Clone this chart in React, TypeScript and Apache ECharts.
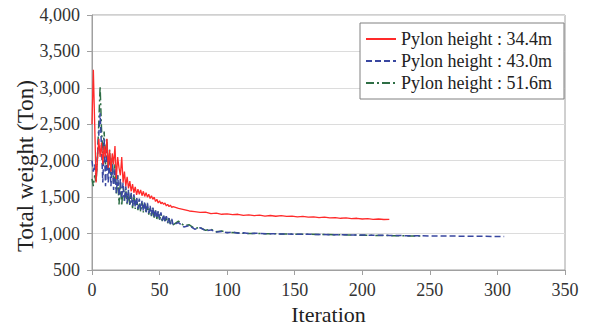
import React, { useEffect, useRef } from "react";
import * as echarts from "echarts";

const seriesNames = ["Pylon height : 34.4m", "Pylon height : 43.0m", "Pylon height : 51.6m"];

const redIter = [
  0, 1, 2, 3, 4, 5, 6, 7, 8, 9, 10, 11, 12, 13, 14, 15, 16, 17, 18, 19, 20, 21, 22, 23, 24, 25, 26, 27, 28, 29, 30,
  31, 32, 33, 34, 35, 36, 37, 38, 39, 40, 41, 42, 43, 44, 45, 46, 47, 48, 49, 50, 51, 52, 53, 54, 55, 56, 57, 58, 59, 60,
  64, 68, 72, 76, 80, 84, 88, 92, 96, 100, 104, 108, 112, 116, 120, 124, 128, 132, 136, 140, 144, 148, 152, 156, 160,
  164, 168, 172, 176, 180, 184, 188, 192, 196, 200, 204, 208, 212, 216, 220,
];
const redWeight = [
  2500, 3250, 2500, 1700, 2000, 2300, 2050, 2250, 1950, 2200, 2050, 2300, 1900, 2150, 1850, 2100, 1950, 2200, 1750, 2050, 1900,
  1800, 2050, 1700, 1850, 1650, 1780, 1620, 1720, 1580, 1680, 1560, 1640, 1530, 1610, 1540, 1600, 1520, 1580, 1510, 1560,
  1500, 1540, 1480, 1520, 1470, 1500, 1440, 1470, 1420, 1450, 1410, 1430, 1400, 1420, 1380, 1400, 1370, 1390, 1360, 1370,
  1345, 1330, 1310, 1300, 1290, 1295, 1275, 1280, 1265, 1270, 1260, 1265, 1250, 1258, 1245, 1252, 1240, 1248, 1238, 1245,
  1235, 1240, 1230, 1236, 1225, 1230, 1220, 1225, 1215, 1220, 1210, 1215, 1205, 1210, 1200, 1205, 1196, 1200, 1193, 1195,
];

const blueIter = [
  0, 1, 2, 3, 4, 5, 6, 7, 8, 9, 10, 11, 12, 13, 14, 15, 16, 17, 18, 19, 20, 21, 22, 23, 24, 25, 26, 27, 28, 29, 30,
  31, 32, 33, 34, 35, 36, 37, 38, 39, 40, 41, 42, 43, 44, 45, 46, 47, 48, 49, 50, 51, 52, 53, 54, 55, 56, 57, 58, 59, 60,
  64, 68, 72, 76, 80, 84, 88, 92, 96, 100, 104, 108, 112, 116, 120, 130, 140, 150, 160, 170, 180, 190, 200, 210, 220,
  230, 240, 250, 260, 270, 280, 290, 300, 305,
];
const blueWeight = [
  2000, 1850, 1950, 1780, 2050, 2350, 2650, 2200, 1700, 2300, 1650, 2150, 1700, 2050, 1650, 1950, 1600, 1900, 1560, 1800, 1520,
  1750, 1480, 1700, 1450, 1650, 1420, 1600, 1400, 1560, 1380, 1540, 1360, 1500, 1340, 1480, 1330, 1450, 1310, 1440, 1290,
  1420, 1280, 1380, 1250, 1360, 1230, 1330, 1210, 1310, 1200, 1290, 1180, 1260, 1160, 1240, 1150, 1220, 1130, 1200, 1120,
  1150, 1090, 1110, 1060, 1080, 1040, 1050, 1020, 1030, 1010, 1020, 1005, 1010, 1000, 1005, 998, 995, 992, 990, 987,
  984, 982, 980, 977, 975, 972, 970, 968, 966, 965, 963, 962, 960, 960,
];

const greenIter = [
  0, 1, 2, 3, 4, 5, 6, 7, 8, 9, 10, 11, 12, 13, 14, 15, 16, 17, 18, 19, 20, 21, 22, 23, 24, 25, 26, 27, 28, 29, 30,
  31, 32, 33, 34, 35, 36, 37, 38, 39, 40, 41, 42, 43, 44, 45, 46, 47, 48, 49, 50, 51, 52, 53, 54, 55, 56, 57, 58, 59, 60,
  64, 68, 72, 76, 80, 84, 88, 92, 96, 100, 108, 116, 124, 132, 140, 150, 160, 170, 180, 190, 200, 210, 220, 230, 240, 245,
];
const greenWeight = [
  1750, 1650, 1800, 1700, 2050, 2500, 3020, 2450, 2100, 2400, 1950, 2300, 1900, 2150, 1800, 2050, 1700, 1950, 1550, 1800, 1400,
  1700, 1380, 1650, 1450, 1620, 1400, 1580, 1380, 1540, 1350, 1520, 1340, 1480, 1320, 1460, 1300, 1430, 1290, 1410, 1280,
  1400, 1260, 1370, 1240, 1350, 1220, 1320, 1200, 1300, 1190, 1270, 1170, 1250, 1160, 1230, 1140, 1210, 1130, 1190, 1120,
  1170, 1110, 1120, 1070, 1085, 1045, 1060, 1025, 1035, 1015, 1010, 1000, 1000, 997, 995, 992, 990, 987, 984, 981, 978,
  975, 972, 969, 967, 965,
];

const pairs = (xs: number[], ys: number[]) => xs.map((x, i) => [x, ys[i]]);

const FONT = "Liberation Serif";

export default function App() {
  const ref = useRef<HTMLDivElement>(null);
  useEffect(() => {
    if (!ref.current) return;
    const chart = echarts.init(ref.current, undefined, { renderer: "svg" });
    chart.setOption({
      animation: false,
      backgroundColor: "#ffffff",
      textStyle: { fontFamily: FONT },
      grid: {
        left: 92,
        right: 24,
        top: 15,
        bottom: 55,
        containLabel: false,
        outerBoundsMode: "none",
        show: true,
        borderColor: "#a0a0a0",
        borderWidth: 1,
        backgroundColor: "transparent",
      },
      legend: {
        orient: "vertical",
        left: 360,
        top: 23,
        padding: [7, 12, 7, 5],
        itemGap: 4,
        itemWidth: 30,
        itemHeight: 14,
        backgroundColor: "#ffffff",
        borderColor: "#808080",
        borderWidth: 1,
        itemStyle: { opacity: 0 },
        textStyle: { fontFamily: FONT, fontSize: 18, color: "#222222", lineHeight: 18 },
        data: seriesNames,
      },
      xAxis: {
        type: "value",
        min: 0,
        max: 350,
        interval: 50,
        name: "Iteration",
        nameLocation: "middle",
        nameGap: 26,
        nameTextStyle: { fontFamily: FONT, fontSize: 22, lineHeight: 22, color: "#222222" },
        axisLine: { lineStyle: { color: "#a0a0a0", width: 1 } },
        axisTick: { show: true, length: 5, lineStyle: { color: "#a0a0a0" } },
        axisLabel: { fontFamily: FONT, fontSize: 18, color: "#333333", margin: 11 },
        splitLine: { show: false },
      },
      yAxis: {
        type: "value",
        min: 500,
        max: 4000,
        interval: 500,
        axisLine: { show: true, lineStyle: { color: "#a0a0a0", width: 1 } },
        axisTick: { show: true, length: 5, lineStyle: { color: "#a0a0a0" } },
        axisLabel: {
          fontFamily: FONT,
          fontSize: 18,
          color: "#333333",
          margin: 12,
          formatter: (v: number) => v.toLocaleString("en-US"),
        },
        splitLine: { show: true, lineStyle: { color: "#dcdcdc", width: 1 } },
      },
      graphic: [
        {
          type: "text",
          x: 25,
          y: 166,
          rotation: Math.PI / 2,
          style: {
            text: "Total weight (Ton)",
            fontFamily: FONT,
            fontSize: 23,
            fill: "#222222",
            align: "center",
            verticalAlign: "middle",
          },
        },
      ],
      series: [
        {
          name: seriesNames[0],
          type: "line",
          symbol: "none",
          data: pairs(redIter, redWeight),
          lineStyle: { color: "#ff2a2a", width: 1.3, type: "solid" },
          itemStyle: { color: "#ff2a2a" },
          z: 3,
        },
        {
          name: seriesNames[1],
          type: "line",
          symbol: "none",
          data: pairs(blueIter, blueWeight),
          lineStyle: { color: "#3947a0", width: 1.5, type: [6, 3] },
          itemStyle: { color: "#3947a0" },
          z: 2,
        },
        {
          name: seriesNames[2],
          type: "line",
          symbol: "none",
          data: pairs(greenIter, greenWeight),
          lineStyle: { color: "#2e6e45", width: 1.5, type: [8, 3, 2, 3] },
          itemStyle: { color: "#2e6e45" },
          z: 1,
        },
      ],
    });
    return () => chart.dispose();
  }, []);
  return <div ref={ref} style={{ width: 589, height: 325, marginLeft: -8, marginTop: -8 }} />;
}
